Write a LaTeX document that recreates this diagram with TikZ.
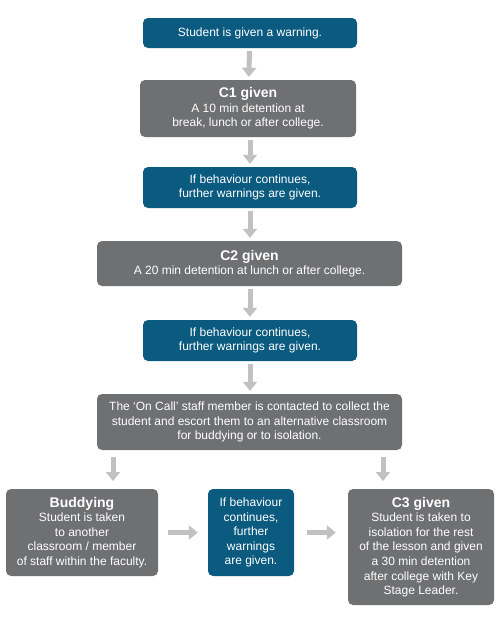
\documentclass[tikz,border=0pt]{standalone}
\usepackage{fontspec}
\setmainfont{Liberation Sans}
\usetikzlibrary{arrows.meta}
\definecolor{boxblue}{HTML}{0B5A7F}
\definecolor{boxgrey}{HTML}{6F7072}
\definecolor{arrgrey}{HTML}{C1C1C1}
\tikzset{
  base/.style={rounded corners=5pt, text=white, align=center, inner sep=2pt,
    font=\fontsize{12}{14.6}\selectfont},
  bluebox/.style={base, fill=boxblue},
  greybox/.style={base, fill=boxgrey},
  arr/.style={draw=arrgrey, line width=5pt, -{Triangle[width=14pt,length=9pt]}, shorten >=3pt, shorten <=3pt},
}
\newcommand{\ttl}[1]{{\bfseries\fontsize{14}{15.5}\selectfont #1}}
\begin{document}
\begin{tikzpicture}[x=1pt,y=1pt]
\useasboundingbox (0,0) rectangle (500,-622);
\fill[white] (0,0) rectangle (500,-622);
\node[bluebox, minimum width=214pt, minimum height=30pt] (b1) at (250,-33) {Student is given a warning.};
\node[greybox, minimum width=216pt, minimum height=57pt] (c1) at (248,-108.5) {\ttl{C1 given}\\A 10 min detention at\\break, lunch or after college.};
\node[bluebox, minimum width=214pt, minimum height=41pt] (w1) at (250,-187.5) {If behaviour continues,\\further warnings are given.};
\node[greybox, minimum width=305pt, minimum height=45pt] (c2) at (249.5,-263.5) {\ttl{C2 given}\\A 20 min detention at lunch or after college.};
\node[bluebox, minimum width=214pt, minimum height=41pt] (w2) at (250,-340.5) {If behaviour continues,\\further warnings are given.};
\node[greybox, minimum width=305pt, minimum height=56pt] (oc) at (249.5,-422) {The `On Call' staff member is contacted to collect the\\student and escort them to an alternative classroom\\for buddying or to isolation.};
\node[greybox, minimum width=152pt, minimum height=87pt] (bud) at (82,-532.5) {\ttl{Buddying}\\Student is taken\\to another\\classroom / member\\of staff within the faculty.};
\node[bluebox, minimum width=86pt, minimum height=87pt] (w3) at (251,-532.5) {If behaviour\\continues,\\further\\warnings\\are given.};
\node[greybox, minimum width=146pt, minimum height=116pt] (c3) at (421,-547) {\ttl{C3 given}\\Student is taken to\\isolation for the rest\\of the lesson and given\\a 30 min detention\\after college with Key\\Stage Leader.};
\coordinate (d1s) at (113,-454);
\coordinate (d1e) at (113,-484);
\coordinate (d2s) at (383,-454);
\coordinate (d2e) at (383,-484);
\draw[arr] (b1) -- (c1);
\draw[arr] (c1.south -| w1.north) -- (w1.north);
\draw[arr] (w1) -- (w1 |- c2.north);
\draw[arr] (c2.south -| w2.north) -- (w2.north);
\draw[arr] (w2) -- (w2 |- oc.north);
\draw[arr] (d1s) -- (d1e);
\draw[arr] (d2s) -- (d2e);
\draw[arr, shorten <=10pt, shorten >=10pt] (bud.east) -- (w3.west);
\draw[arr, shorten <=13pt, shorten >=12pt] (w3.east) -- (w3.east -| c3.west);
\end{tikzpicture}
\end{document}
